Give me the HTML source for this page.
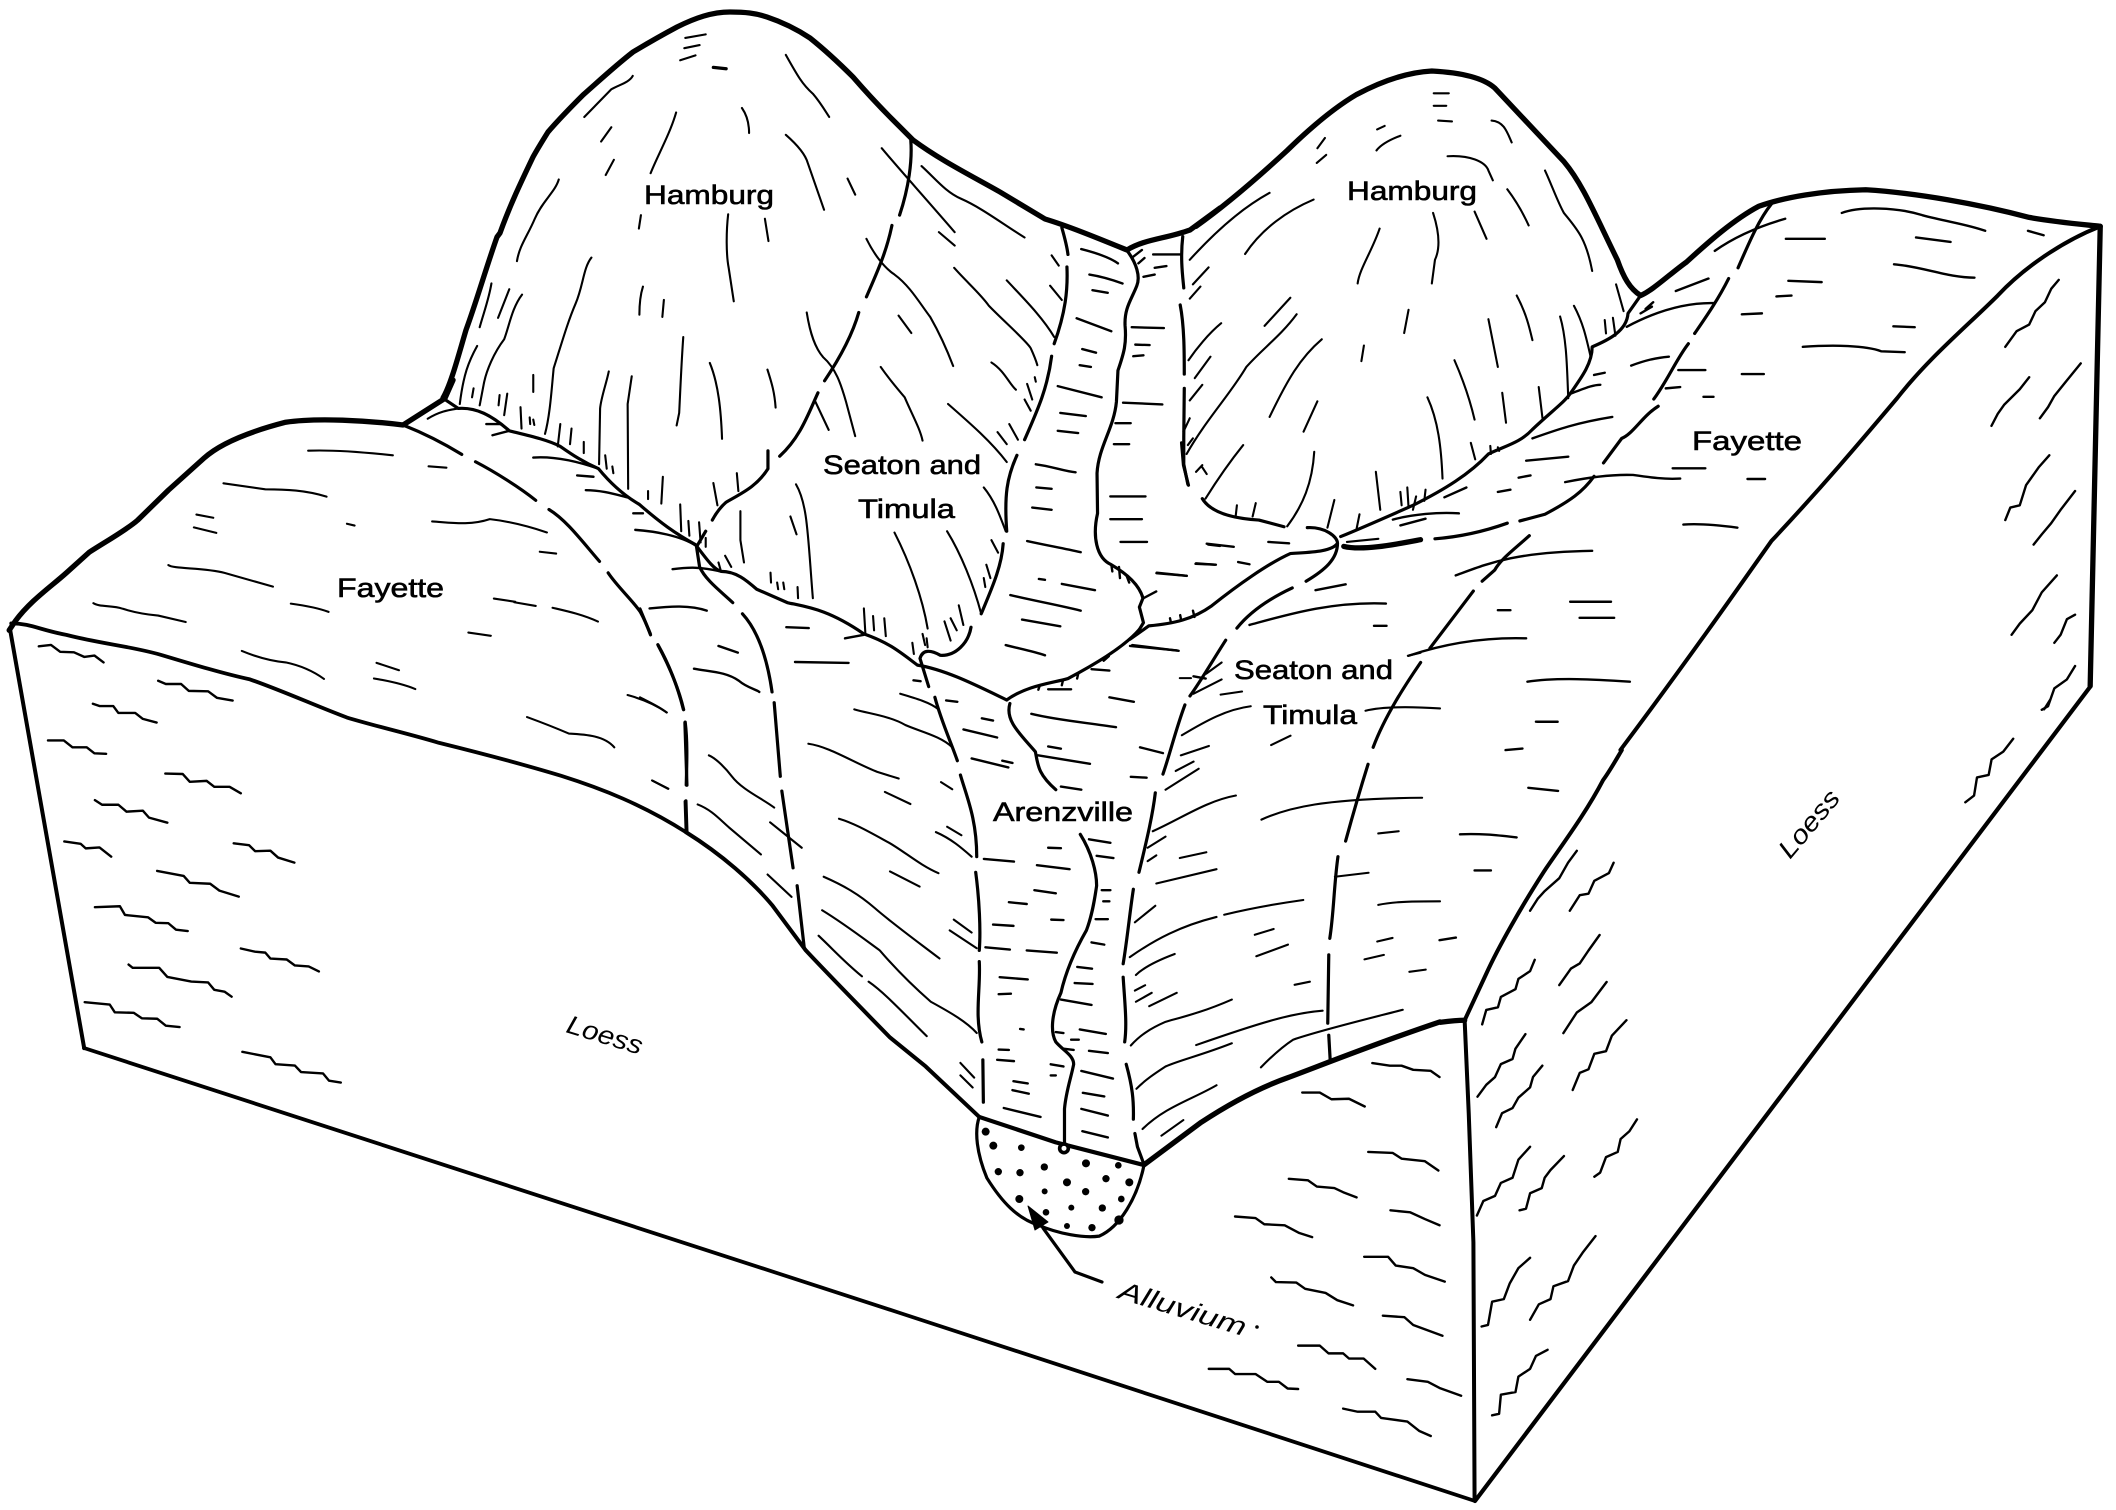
<!DOCTYPE html>
<html><head><meta charset="utf-8"><title>Block diagram</title>
<style>
html,body{margin:0;padding:0;background:#fff}
svg{display:block}
path{vector-effect:non-scaling-stroke;fill:none;stroke:#000;stroke-linecap:round;stroke-linejoin:round}
.k{stroke-width:5.3}.m{stroke-width:3.2}.t{stroke-width:2.1}.w{stroke-width:2.4}
text{font-family:"Liberation Sans",sans-serif;fill:#000;stroke:#000;stroke-width:.6}
.i{font-style:italic;stroke-width:0}
</style></head><body>
<svg width="2116" height="1510" viewBox="0 0 2116 1510" xmlns="http://www.w3.org/2000/svg">
<rect width="2116" height="1510" fill="#fff"/>

<!-- Bottom edges -->
<path class="m" style="stroke-width:3.8" d="M84 1048 L900 1313 L1475 1501"/>
<path class="m" style="stroke-width:4.2" d="M2090 687 L1475 1501"/>

<!-- Z1 -->
<g transform="translate(0 380) scale(.5102 .4592)">
<path class="k" d="M18 545 L30 525 C60 480 100 450 130 420 L175 375 C210 350 250 325 270 305 L330 240 L400 170 C430 140 480 115 560 92 C620 82 720 88 790 98 L872 40 L888 0"/>
<path class="k" style="stroke-width:4" d="M20 545 L165 1455"/>
<path class="m" style="stroke-width:3.8" d="M22 530 C60 530 80 545 130 555 C200 575 260 580 320 600 C380 620 440 640 490 652 C550 675 620 710 680 735 C740 755 800 770 860 790 C940 812 1020 835 1100 862 C1180 890 1260 925 1345 985"/>
<path class="m" d="M790 98 C840 120 880 145 905 162 M932 178 C970 200 1020 235 1050 262 M1076 282 C1110 305 1140 350 1175 395 M1192 420 C1210 450 1240 480 1255 505 C1265 525 1270 540 1275 555 M1290 578 C1310 620 1330 670 1340 718 M1343 745 C1348 790 1346 840 1345 882 M1343 918 L1345 985"/>
<path class="w" d="M76 580 L100 577 L118 592 L145 593 L165 603 L185 600 L203 615 M310 655 L325 662 L355 662 L370 677 L408 678 L425 692 L456 698 M182 705 L195 710 L222 710 L232 725 L265 725 L280 738 L307 746 M94 785 L125 785 L142 800 L170 800 L185 813 L208 814 M324 857 L358 858 L372 875 L405 873 L420 886 L450 886 L472 900 M186 915 L200 925 L232 925 L248 940 L280 938 L292 953 L328 964 M126 1005 L158 1010 L168 1020 L195 1018 L218 1038 M458 1009 L488 1013 L500 1026 L530 1025 L545 1040 L577 1051 M308 1069 L360 1080 L372 1095 L412 1097 L430 1112 L468 1125 M186 1148 L235 1146 L245 1165 L290 1170 L305 1182 L330 1183 L345 1197 L368 1200 M472 1238 L500 1245 L520 1247 L530 1260 L562 1262 L578 1275 L605 1277 L625 1288 M252 1273 L260 1280 L312 1280 L328 1300 L375 1310 L408 1312 L420 1328 L440 1332 L454 1343 M166 1355 L215 1360 L225 1377 L262 1378 L278 1390 L308 1391 L325 1406 L352 1409 M475 1463 L530 1475 L540 1490 L578 1493 L590 1507 L633 1510 L645 1526 L668 1530"/>
<path class="t" d="M604 154 C650 152 720 158 770 164 M840 188 L875 191 M438 225 L520 238 C560 238 600 240 640 254 M385 293 L418 300 M380 321 L424 333 M680 313 L695 317 M847 308 C880 310 920 318 960 303 C1000 308 1040 320 1072 332 M1058 374 L1090 378 M330 403 C340 412 400 408 440 420 L535 450 M570 487 C590 490 620 495 644 505 M183 486 C195 495 220 490 240 498 C260 505 280 510 310 513 L364 527 M968 476 L1010 483 M1008 484 L1050 492 M1083 496 C1110 503 1140 510 1172 526 M918 550 L962 557 M474 590 C500 602 530 612 560 615 C590 622 615 635 635 651 M738 616 L782 632 M733 650 C760 655 790 662 814 673 M1230 686 C1260 695 1285 707 1307 724 M1033 734 C1060 745 1090 758 1115 770 C1150 772 1185 775 1204 800 M1278 872 L1310 890"/>
</g>

<!-- Left Hamburg skyline (real coords) -->
<path class="k" d="M443 398 C451 384 458 357 466 330 C476 303 486 268 497 237 L500 233 C510 205 522 180 533 157 C538 148 543 140 548 132 C560 118 570 108 583 95 C600 80 615 66 633 52 C648 43 662 35 677 27 C695 18 712 12 730 12 C745 12 755 13 767 17 C785 23 798 30 810 38 C825 50 840 64 853 77 C866 92 880 107 893 120 L913 140 C940 160 970 175 1000 192 C1015 201 1030 210 1045 219 C1068 226 1095 237 1127 250 C1145 239 1165 239 1190 230 L1220 208"/>

<!-- Z2 -->
<g transform="translate(420 0) scale(.5102 .4464)">
<path class="m" d="M45 892 L75 915 C110 912 140 930 175 965 C210 975 250 985 275 1000 C300 1020 320 1035 350 1050 C375 1085 400 1110 430 1130 C470 1170 500 1195 540 1220 C560 1250 575 1275 590 1280 C620 1280 640 1300 660 1320 L720 1350 C760 1360 800 1365 870 1420 C920 1440 940 1460 975 1490 C1030 1500 1090 1535 1150 1568"/>
<path class="t" d="M15 938 C40 920 60 918 75 915"/>
<path class="t" d="M520 85 L560 77 M518 108 L548 101 M510 135 L540 124 M717 123 C740 170 750 190 770 210 C785 230 795 250 802 262 M417 170 C410 185 390 190 375 200 L322 262 M375 285 L355 317 M380 358 L364 392 M502 252 C490 300 465 350 452 388 M631 242 C642 260 645 280 645 298 M717 302 C740 325 755 345 760 365 L792 470 M838 400 L853 436 M272 402 C265 430 240 450 225 490 C210 530 195 550 190 585 M433 482 L429 512 M604 480 C600 520 600 570 605 600 L615 675 M676 490 L683 540 M336 577 C320 600 320 640 305 680 C290 720 280 760 262 825 C258 870 255 930 245 972 M140 635 C135 670 125 700 117 733 M175 648 L153 712 M200 660 C180 690 175 730 165 760 C145 790 130 830 125 860 L117 908 M112 775 C95 810 85 840 78 905 M105 870 L102 890 M437 642 C432 660 430 680 430 705 M478 672 L475 710 M516 755 C512 820 510 880 508 925 L503 953 M568 813 C585 860 590 920 592 983 M681 828 C690 860 695 880 697 913 M222 840 L222 878 M370 832 C365 860 355 890 353 915 L351 1040 M415 843 L407 905 L408 1095 M156 885 L154 908 M171 882 L165 930 M197 912 L199 960 M215 935 L216 950 M222 940 L224 952 M275 950 L270 1000 M297 960 L294 995 M321 990 L321 1015 M363 1020 L366 1050 M377 1045 L379 1060 M476 1068 L473 1128 M447 1100 L447 1118 M510 1130 L512 1190 M526 1167 L528 1200 M547 1170 L550 1215 M560 1205 L560 1225 M575 1082 L583 1132 M621 1060 L624 1100"/>
<path class="m" style="stroke-width:3.3" d="M575 151 L600 154"/>
<path class="m" d="M962 315 C965 360 958 420 940 482 M925 505 C915 560 900 600 875 665 M860 700 C850 740 830 790 793 853 M780 880 C760 930 745 980 705 1022 M682 1010 L682 1050 C660 1090 630 1105 600 1125 C590 1135 580 1150 573 1165 M560 1190 L542 1225 L548 1270 C560 1300 590 1325 613 1350 M632 1375 C660 1410 680 1470 690 1550"/>
<path class="t" d="M905 332 C940 380 980 430 1048 520 M983 372 C1010 400 1030 430 1060 445 C1100 465 1140 500 1185 532 M1017 520 L1048 550 M875 535 C890 570 910 600 930 615 C960 640 980 680 1000 710 C1020 750 1035 790 1045 820 M1047 600 C1070 630 1100 660 1115 685 C1140 715 1190 765 1197 780 C1205 800 1208 810 1210 818 M1150 628 C1180 665 1220 710 1243 755 M1235 640 L1258 672 M1238 572 L1252 595 M938 707 L963 746 M758 700 C765 750 775 780 790 800 C815 825 825 860 835 900 L853 977 M903 822 C920 850 935 870 950 890 C965 930 980 960 985 987 M1120 812 C1145 830 1155 860 1168 873 M775 900 L801 963 M1035 905 C1080 950 1120 990 1150 1035 M1132 968 L1150 995 M1155 950 L1172 985 M1190 860 L1200 895 M1185 895 L1197 920 M1205 845 L1207 855 M737 1085 C760 1130 760 1200 770 1340 M726 1157 L738 1197 M1105 1092 C1125 1120 1135 1150 1148 1190 M1120 1210 L1133 1238 M1110 1265 L1118 1295 M1105 1295 L1108 1315 M628 1145 L628 1210 L635 1260 M930 1193 C960 1260 985 1340 995 1408 M1033 1190 C1060 1240 1085 1310 1100 1375 M1056 1356 L1065 1400 M1040 1385 L1052 1412 M1028 1392 L1040 1435 M687 1283 L688 1305 M700 1305 L702 1320 M712 1305 L714 1320 M740 1315 L741 1340 M585 1260 L590 1280 M598 1245 L610 1270 M870 1363 L873 1420 M888 1380 L890 1412 M910 1385 L913 1425 M965 1440 L968 1465 M985 1420 L990 1445 M993 1430 L995 1450"/>
<path class="m" d="M1258 510 C1263 530 1268 550 1270 570 M1268 598 C1270 650 1265 700 1243 770 M1238 798 C1230 870 1210 920 1185 985 M1170 1020 C1150 1070 1145 1110 1150 1190 M1143 1218 C1140 1270 1120 1320 1100 1375 M1080 1405 C1075 1440 1050 1470 1020 1468 C1000 1455 985 1455 980 1475 L997 1538"/>
<path class="m" d="M1385 560 C1405 590 1412 620 1405 640 C1395 670 1380 690 1382 730 C1385 770 1380 790 1368 830 L1365 900 C1360 960 1330 1000 1327 1060 L1328 1150 C1318 1200 1325 1250 1355 1265 C1385 1285 1410 1310 1417 1340 L1410 1360 L1418 1395 L1410 1410"/>
<path class="m" d="M1150 1568 C1190 1535 1240 1530 1270 1520 C1320 1490 1380 1450 1410 1410"/>
<path class="m" d="M1495 530 C1490 580 1495 620 1497 645 M1490 683 C1498 730 1498 790 1498 838 M1498 870 L1497 980 L1497 1040 L1505 1085"/>
<path class="t" style="stroke-width:2.4" d="M1296 558 C1320 565 1350 575 1368 590 M1312 615 C1340 620 1360 628 1377 635 M1318 650 L1348 656 M1287 713 L1355 742 M1298 782 L1325 790 M1293 818 L1315 822 M1250 865 L1336 890 M1255 925 L1305 932 M1250 965 L1290 970 M1207 1040 C1240 1045 1260 1055 1285 1058 M1208 1092 L1238 1095 M1200 1137 L1238 1142 M1190 1212 C1230 1222 1260 1228 1295 1237 M1258 1308 L1323 1322 M1157 1333 C1200 1345 1250 1355 1295 1368 M1213 1297 L1225 1299 M1180 1388 L1255 1403 M1148 1445 C1170 1452 1200 1458 1225 1468 M1395 733 L1458 735 M1402 772 L1430 773 M1398 798 L1418 796 M1378 902 L1455 906 M1363 948 L1393 948 M1360 995 L1390 995 M1353 1112 L1422 1112 M1353 1163 L1415 1163 M1373 1214 L1425 1214 M1444 1283 L1503 1290 M1520 1263 L1560 1265 M1545 1220 L1568 1223 M1396 1445 L1487 1458 M1516 1515 L1540 1520 M1437 570 L1490 570 M1440 600 L1463 596 M1418 620 L1440 615 M1398 575 L1415 560 M1408 590 L1420 578 M222 1025 C260 1022 300 1030 350 1050 M142 975 L175 965 M130 950 L160 950 M325 1098 C360 1098 390 1110 410 1115 M308 1065 L340 1068 M418 1150 L437 1150 M422 1187 C460 1190 510 1200 540 1222 M495 1275 C530 1270 550 1270 590 1280 M450 1363 C490 1358 530 1355 562 1368 M718 1405 L762 1407 M735 1483 L840 1485 M833 1430 L870 1422 M585 1447 L623 1462 M537 1498 C570 1505 600 1505 625 1525 C640 1540 660 1545 665 1550 M1355 1265 L1357 1280 M1370 1270 L1372 1295 M1385 1290 L1390 1305 M1418 1340 L1443 1325 M1470 1385 L1472 1395 M1490 1378 L1492 1390 M1515 1368 L1518 1382 M1340 1480 L1350 1470 M1290 1510 L1288 1520 M1260 1525 L1258 1535 M1215 1535 L1212 1545"/>
</g>

<!-- Z3 -->
<g transform="translate(1130 50) scale(.6288 .4464)">
<path class="k" d="M105 395 C150 350 200 290 250 225 C290 170 330 125 360 100 C400 70 440 50 480 47 C520 50 560 60 580 85 C610 130 650 190 690 250 C720 300 740 370 775 470 C785 510 795 535 812 550 C830 540 860 500 885 475 C920 430 960 380 1000 350 C1040 330 1100 315 1170 313 C1250 320 1350 345 1430 375 C1470 385 1510 390 1543 395"/>
<path class="k" d="M1543 395 L1527 1425"/>
<path class="m" style="stroke-width:4" d="M1543 395 C1480 430 1420 490 1380 550 C1330 620 1270 690 1220 780 C1160 880 1100 980 1020 1100 C960 1220 880 1380 780 1568"/>
<path class="m" d="M82 880 L85 930 L93 975 M115 1005 C130 1040 170 1050 205 1053 L245 1068 M282 1070 C310 1068 330 1090 330 1105 C320 1125 285 1125 255 1128 C220 1150 170 1200 130 1245 C100 1275 70 1285 30 1290 L0 1320 M330 1105 C330 1140 310 1165 280 1190 M258 1205 C220 1230 190 1260 170 1295"/>
<path class="m" d="M335 1090 C370 1070 410 1045 450 1020 C500 985 540 950 570 905 C600 885 620 880 640 850 C670 810 690 790 700 770 C720 730 735 700 735 665 C760 650 790 630 792 590 L812 550"/>
<path class="m" d="M1020 345 C1000 380 985 430 967 488 M952 512 C935 560 915 600 898 635 M888 658 C870 690 855 740 833 782 M840 798 C815 820 800 860 782 870 L753 925 M738 955 C720 990 700 1010 660 1040 L620 1055 M600 1060 C570 1075 530 1090 485 1095 M635 1088 C610 1120 590 1140 580 1165 L560 1190 M546 1212 L477 1340"/>
<path class="k" d="M340 1112 C370 1122 420 1108 462 1097"/>
<path class="t" d="M345 1102 L395 1095 M483 97 L507 97 M483 125 L503 125 M490 158 L512 160 M393 178 L405 170 M392 225 C400 210 415 200 430 192 M298 220 L310 197 M297 253 L312 235 M575 158 C595 160 600 185 607 207 M505 238 C540 235 565 250 570 270 L577 292 M222 320 C190 345 150 385 95 470 M292 335 C250 360 210 400 183 457 M125 487 L100 525 M112 530 L95 557 M660 270 C670 300 680 340 690 365 C710 400 725 420 735 495 M600 312 C615 340 625 365 634 393 M548 362 L567 423 M482 365 C490 400 495 440 485 470 L480 523 M397 400 C385 450 365 490 362 523 M255 555 L214 618 M265 592 C240 640 210 670 185 710 C160 770 120 830 90 905 M305 648 C270 690 250 740 222 822 M145 612 C125 635 105 670 93 695 M128 687 L103 735 M115 750 L95 785 M95 825 L85 855 M100 870 L92 885 M443 582 L436 634 M615 550 C630 590 635 620 640 650 M570 603 L585 710 M706 573 C720 610 725 640 733 690 M684 597 C695 650 695 720 697 780 M650 755 L656 825 M592 768 L598 835 M516 695 C530 740 540 780 548 828 M372 662 L368 697 M298 787 L276 855 M473 778 C490 830 495 890 497 960 M542 880 L549 917 M573 887 L574 905 M585 890 L587 898 M180 885 C160 920 140 960 120 1005 M293 900 C290 970 275 1020 250 1067 M325 1008 L314 1070 M365 1040 L360 1075 M391 945 L398 1030 M430 990 L432 1020 M441 980 L443 1025 M455 1000 L450 1030 M470 985 L468 1010 M170 1020 L168 1045 M200 1015 L195 1045 M105 945 L115 930 M115 935 L122 950 M773 525 L785 585 M755 605 L757 635 M768 600 L772 640"/>
<path class="t" style="stroke-width:2.4" d="M1132 365 C1160 350 1220 352 1260 370 C1300 385 1330 390 1360 405 M1428 405 L1453 415 M1043 423 L1105 423 M1250 420 L1305 430 M1215 480 C1260 485 1300 510 1343 510 M1047 517 L1100 520 M1028 552 L1052 550 M973 592 L1005 590 M1214 619 L1248 621 M1070 665 C1120 660 1170 662 1195 675 L1232 677 M930 450 C960 420 1000 395 1042 378 M868 540 L920 512 M812 590 L830 575 M820 580 L832 565 M790 620 C830 590 880 565 930 567 M797 707 C820 695 835 690 857 687 M872 717 L915 717 M973 726 L1008 726 M912 777 L928 777 M700 770 C720 760 735 750 748 750 M738 728 L755 723 M640 870 C680 850 710 835 767 822 M852 758 L875 755 M630 920 L697 911 M618 958 L637 953 M585 990 L605 985 M692 968 C720 960 760 950 800 952 C830 958 850 962 875 960 M863 937 L915 937 M982 961 L1010 961 M880 1063 C910 1060 940 1065 966 1070 M418 1052 C450 1040 490 1035 523 1038 M430 1065 L470 1050 M500 1002 L535 980 M122 1106 L165 1113 M220 1102 L253 1105 M105 1150 L135 1153 M172 1147 L190 1152 M42 1172 L90 1178 M0 1335 L75 1345 M295 1210 L343 1197 M190 1288 C250 1265 320 1235 407 1240 M388 1290 L408 1290 M585 1255 L605 1255 M700 1236 L765 1236 M715 1272 L770 1272 M518 1177 C570 1150 610 1125 735 1122 M443 1357 C500 1330 560 1315 630 1318 M632 1415 C680 1405 740 1410 795 1415 M648 1505 L680 1505"/>
<path class="w" d="M1477 515 L1465 535 L1455 565 L1440 585 L1430 615 L1410 630 L1392 665 M1512 702 L1490 740 L1470 775 L1460 800 L1447 825 M1430 733 L1415 760 L1390 795 L1380 815 L1370 842 M1462 908 L1445 935 L1425 975 L1415 1020 L1400 1025 L1392 1053 M1503 988 L1480 1030 L1465 1060 L1450 1085 L1437 1108 M1474 1177 L1450 1215 L1435 1255 L1415 1285 L1402 1310 M1503 1265 L1490 1275 L1480 1310 L1470 1328 M1503 1380 L1490 1410 L1470 1430 L1460 1470 L1450 1478"/>
</g>

<!-- Z4 -->
<g transform="translate(640 600) scale(.5102 .4464)">
<path class="m" style="stroke-width:4" d="M90 520 C160 570 220 630 260 685 L325 785 C370 840 430 910 490 980 L560 1045 L665 1158"/>
<path class="k" style="stroke-width:4.2" d="M665 1158 L815 1215 L985 1265"/>
<path class="m" d="M665 1158 C655 1190 660 1240 680 1295 C710 1350 740 1385 780 1400 C820 1420 870 1430 900 1425 C940 1405 975 1340 988 1265"/>
<path class="k" d="M988 1265 L1100 1170 C1160 1125 1220 1090 1270 1070 C1340 1040 1450 990 1568 945"/>
<path class="m" d="M0 20 L20 75 M35 100 C60 150 75 200 85 245 M88 275 L92 415 M90 450 L92 520 M263 230 L275 395 M278 428 L300 600 M308 640 L322 780 M578 218 C590 270 610 320 622 360 M628 392 C640 440 660 490 660 575 M658 610 C665 670 668 740 665 785 M665 810 C668 870 655 930 670 990 M672 1030 L673 1125 M725 232 C715 270 745 300 775 340 C780 370 780 390 815 425 M863 525 C885 565 895 610 895 640 C890 680 885 710 875 740 C855 780 835 830 825 880 C805 930 805 970 815 990 C830 1010 850 1020 850 1040 C845 1070 835 1100 832 1140 L832 1215 M1148 90 C1120 140 1100 180 1078 215 M1068 235 C1050 290 1040 340 1025 390 M1010 432 C1005 480 995 530 978 610 M967 648 C960 700 955 760 947 815 M947 845 C950 900 955 950 950 990 M953 1040 C965 1090 968 1120 967 1163 M970 1195 L975 1225 L988 1265 M1530 140 C1500 190 1460 260 1437 330 M1427 368 C1410 430 1395 490 1383 540 M1368 575 C1360 640 1360 700 1352 758 M1350 795 L1348 948 M1350 975 L1353 1035"/>
<path class="t" d="M0 218 C20 230 40 240 52 252 M25 405 L55 423 M135 348 C150 355 170 380 180 395 C200 425 240 445 263 465 M113 458 C140 470 155 490 175 510 L237 570 M255 498 L317 555 M250 615 L297 665 M350 752 C385 790 400 810 435 843 M448 855 C480 880 520 930 562 977 M357 695 C400 725 440 760 470 785 C500 825 540 870 570 900 C610 925 640 945 660 970 M360 620 C400 640 430 660 460 690 C490 720 520 745 587 803 M390 490 C420 500 450 520 490 545 C520 565 550 595 585 612 M490 608 L548 642 M330 322 C370 328 420 365 465 385 L507 400 M480 430 L530 457 M420 245 C450 255 490 260 520 280 C550 295 590 305 612 330 M590 408 L612 424 M580 520 C610 535 630 555 650 575 M602 508 L630 527 M615 716 L650 745 M607 740 L660 780 M628 1037 L655 1070 M628 1065 L652 1092 M510 210 C540 220 570 230 585 245"/>
<path class="t" style="stroke-width:2.4" d="M536 180 L550 182 M600 225 L622 228 M885 155 L920 158 M800 200 L845 200 M920 218 L968 228 M670 265 L692 270 M634 290 L700 308 M650 355 L722 375 M710 360 L730 365 M674 580 L733 586 M778 594 L842 603 M800 555 L825 556 M773 650 L815 657 M723 677 L758 681 M692 727 L732 730 M806 716 L830 717 M677 778 L725 783 M758 785 L817 790 M705 845 L760 850 M703 883 L727 882 M745 961 L752 962 M703 1007 L723 1008 M700 1030 L733 1033 M732 1078 L760 1083 M730 1098 L762 1106 M713 1138 L785 1158 M880 536 L922 544 M895 573 L928 578 M905 650 L922 650 M908 675 L920 675 M893 715 L917 715 M885 767 L910 772 M857 822 L886 826 M852 858 L887 860 M825 895 L885 907 M862 962 L913 972 M815 968 L830 970 M845 985 L860 985 M830 1005 L850 1008 M880 1010 L917 1015 M865 1055 L927 1072 M868 1104 L910 1112 M865 1140 L917 1155 M867 1190 L917 1204 M805 1040 L830 1045 M805 1065 L815 1065 M767 255 C820 270 880 275 933 285 M800 328 L825 333 M780 348 L882 367 M825 418 L865 425 M962 396 L993 398 M980 330 L1025 343"/>
<path class="t" d="M1197 238 C1150 245 1110 270 1062 303 M1115 327 L1060 348 M1085 362 L1050 383 M1095 378 L1030 425 M1168 438 C1110 450 1060 490 1005 518 M1030 530 L995 555 M1012 572 L995 585 M1110 565 L1058 578 M1130 603 L1012 635 M1010 685 L970 722 M1300 672 C1250 680 1200 690 1145 705 M1130 710 C1060 730 1010 760 960 800 M1048 793 C1020 805 990 820 972 840 M990 863 L970 875 M1003 880 L972 900 M1052 880 L998 910 M1160 895 C1100 925 1060 935 1030 945 C1000 960 980 975 962 998 M1338 920 C1280 925 1220 945 1090 997 M1495 918 C1420 940 1330 965 1280 985 C1260 1000 1240 1020 1217 1047 M1160 993 C1100 1020 1060 1030 1030 1045 C1010 1060 990 1075 973 1095 M1130 1087 C1080 1120 1030 1135 985 1185 M1065 1165 L1022 1200 M1218 492 C1270 465 1340 445 1533 443 M1447 523 L1487 518 M1362 620 L1428 611 M1447 683 C1480 675 1520 675 1568 675 M1205 750 L1242 737 M1208 798 L1270 772 M1420 805 L1458 795 M1445 765 L1475 757 M1508 833 L1540 828 M1283 862 L1313 855 M1237 325 L1275 304 M1422 248 C1450 240 1500 238 1568 243 M1505 125 L1530 118 M1138 212 L1180 205 M1058 175 L1080 175 M1140 140 L1110 165 M1140 178 L1085 210"/>
</g>

<!-- Alluvium dots and arrow (real coords) -->
<g fill="#000" transform="translate(900 1080) scale(.3333)">
<circle cx="257" cy="155" r="12"/><circle cx="280" cy="197" r="12"/><circle cx="364" cy="203" r="10"/><circle cx="295" cy="275" r="11"/><circle cx="360" cy="278" r="11"/><circle cx="433" cy="261" r="11"/><circle cx="558" cy="250" r="12"/><circle cx="655" cy="256" r="10"/><circle cx="618" cy="296" r="11"/><circle cx="688" cy="307" r="12"/><circle cx="501" cy="307" r="12"/><circle cx="557" cy="335" r="11"/><circle cx="434" cy="334" r="9"/><circle cx="358" cy="357" r="12"/><circle cx="664" cy="357" r="10"/><circle cx="514" cy="383" r="9"/><circle cx="607" cy="384" r="11"/><circle cx="438" cy="397" r="10"/><circle cx="657" cy="420" r="14"/><circle cx="501" cy="438" r="9"/><circle cx="576" cy="443" r="11"/>
<circle cx="492" cy="205" r="13" fill="#fff" stroke="#000" stroke-width="11"/>
</g>
<path class="m" d="M1043 1228 L1075 1272 L1102 1282"/>
<path style="fill:#000;stroke:#000;stroke-width:1" d="M1028 1206 L1048 1222 L1035 1230 Z"/>

<!-- Z5 -->
<g transform="translate(1200 700) scale(.5842 .5165)">
<path class="k" d="M412 624 C425 622 440 620 453 620"/>
<path class="k" style="stroke-width:4" d="M453 620 L460 800 L468 1050 L470 1550"/>
<path class="m" style="stroke-width:4" d="M722 97 C710 120 700 140 690 155 C660 220 620 280 590 330 C550 400 510 480 490 530 L453 620"/>
<path class="t" style="stroke-width:2.4" d="M575 42 L612 42 M523 97 L552 94 M562 170 L613 176 M445 260 C480 258 510 262 542 266 M470 330 L498 330 M410 465 L438 460"/>
<path class="w" d="M295 703 L325 708 L345 708 L365 716 L395 718 L410 730 M175 760 L205 760 L225 773 L255 772 L282 787 M288 875 L330 877 L345 888 L385 893 L408 911 M152 927 L185 930 L200 942 L230 945 L245 953 L268 963 M60 1000 L95 1003 L110 1015 L145 1017 L170 1032 L192 1040 M326 988 L360 992 L385 1005 L410 1017 M281 1078 L322 1078 L335 1095 L365 1100 L385 1113 L419 1126 M122 1118 L130 1127 L165 1128 L180 1140 L215 1148 L235 1162 L262 1172 M313 1192 L350 1195 L365 1210 L415 1231 M168 1250 L205 1250 L220 1265 L245 1265 L255 1275 L280 1275 L300 1295 M15 1295 L50 1295 L60 1305 L95 1305 L115 1320 L135 1320 L150 1333 L168 1334 M355 1315 L390 1320 L410 1332 L447 1347 M245 1372 L270 1378 L300 1378 L310 1390 L355 1397 L375 1415 L395 1425"/>
<path class="w" d="M645 292 L630 315 L615 345 L590 370 L578 385 L565 408 M708 315 L700 335 L675 350 L665 375 L650 378 L633 408 M684 455 L665 485 L650 510 L635 520 L615 552 M573 503 L565 525 L545 540 L540 560 L515 575 L510 595 L490 600 L483 628 M696 546 L670 585 L645 605 L622 645 M557 647 L540 675 L535 695 L515 705 L505 730 L490 745 L475 768 M730 620 L705 650 L695 680 L675 685 L665 715 L650 722 L638 755 M586 708 L570 730 L565 750 L545 770 L535 790 L517 800 L507 827 M748 812 L735 835 L720 850 L715 875 L695 885 L685 915 L675 923 M565 865 L545 890 L535 925 L515 935 L505 960 L485 970 L474 998 M623 883 L600 910 L590 925 L585 945 L565 955 L558 985 L547 988 M677 1038 L655 1070 L640 1095 L630 1125 L605 1135 L600 1160 L580 1170 L565 1200 M565 1080 L545 1100 L530 1130 L520 1160 L500 1165 L493 1210 L482 1213 M595 1258 L575 1270 L565 1295 L545 1310 L540 1340 L515 1345 L512 1382 L500 1385 M1392 75 L1375 100 L1355 115 L1350 145 L1330 150 L1325 185 L1310 198 M1455 0 L1445 18"/>
</g>

<!-- Labels -->
<g font-size="27">
<text x="644" y="204" textLength="130" lengthAdjust="spacingAndGlyphs">Hamburg</text>
<text x="1347" y="200" textLength="130" lengthAdjust="spacingAndGlyphs">Hamburg</text>
<text x="823" y="474" textLength="158" lengthAdjust="spacingAndGlyphs">Seaton and</text>
<text x="858" y="518" textLength="97" lengthAdjust="spacingAndGlyphs">Timula</text>
<text x="337" y="597" textLength="107" lengthAdjust="spacingAndGlyphs">Fayette</text>
<text x="1692" y="450" textLength="110" lengthAdjust="spacingAndGlyphs">Fayette</text>
<text x="1234" y="679" textLength="159" lengthAdjust="spacingAndGlyphs">Seaton and</text>
<text x="1263" y="724" textLength="94" lengthAdjust="spacingAndGlyphs">Timula</text>
<text x="993" y="821" textLength="140" lengthAdjust="spacingAndGlyphs">Arenzville</text>
</g>
<g font-size="26">
<text class="i" transform="translate(565 1032) rotate(17)" textLength="78" lengthAdjust="spacingAndGlyphs">Loess</text>
<text class="i" transform="translate(1790 860) rotate(-50)" textLength="80" lengthAdjust="spacingAndGlyphs">Loess</text>
<text class="i" transform="translate(1117 1298) rotate(16.8)" textLength="132" lengthAdjust="spacingAndGlyphs">Alluvium</text>
</g>
<circle cx="1257" cy="1327" r="1.8" fill="#000"/>
</svg>
</body></html>
